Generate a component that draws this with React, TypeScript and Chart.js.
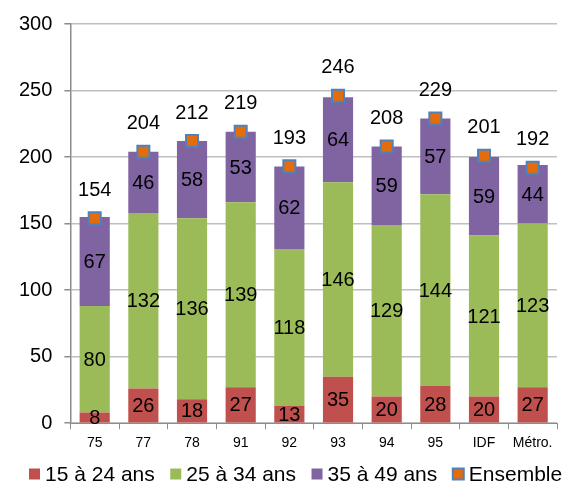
import React, { useEffect, useRef } from "react";
import { Chart, registerables } from "chart.js";

Chart.register(...registerables);

const categories = ["75", "77", "78", "91", "92", "93", "94", "95", "IDF", "Métro."];
const age15to24 = [8, 26, 18, 27, 13, 35, 20, 28, 20, 27];
const age25to34 = [80, 132, 136, 139, 118, 146, 129, 144, 121, 123];
const age35to49 = [67, 46, 58, 53, 62, 64, 59, 57, 59, 44];
const ensemble = [154, 204, 212, 219, 193, 246, 208, 229, 201, 192];
const yTicks = [0, 50, 100, 150, 200, 250, 300];

const FONT = "'Liberation Sans', Arial, sans-serif";
const RED = "#C0504D";
const GREEN = "#9BBB59";
const PURPLE = "#8064A2";
const ORANGE = "#E46C0A";
const BLUE = "#4F81BD";

const legendItems = [
  { text: "15 à 24 ans", fill: RED, stroke: null as string | null },
  { text: "25 à 34 ans", fill: GREEN, stroke: null as string | null },
  { text: "35 à 49 ans", fill: PURPLE, stroke: null as string | null },
  { text: "Ensemble", fill: ORANGE, stroke: BLUE as string | null },
];

// Writes each segment's value in its middle and the total above each marker
const valueLabels = {
  id: "valueLabels",
  afterDatasetsDraw(chart: any) {
    const ctx = chart.ctx;
    ctx.save();
    ctx.font = `20px ${FONT}`;
    ctx.fillStyle = "#000000";
    ctx.textAlign = "center";
    ctx.textBaseline = "middle";
    chart.data.datasets.forEach((ds: any, i: number) => {
      const meta = chart.getDatasetMeta(i);
      meta.data.forEach((el: any, j: number) => {
        const v = ds.data[j];
        if (ds.type === "line") {
          ctx.fillText(String(v), el.x, el.y - 28);
        } else {
          const props = el.getProps(["x", "y", "base"], true);
          ctx.fillText(String(v), props.x, (props.y + props.base) / 2 + 1);
        }
      });
    });
    ctx.restore();
  },
};

// Legend row below the axis: small square, short gap, label
const bottomLegend = {
  id: "bottomLegend",
  afterDraw(chart: any) {
    const ctx = chart.ctx;
    const box = 11;
    const gap = 5;
    const itemGap = 15.5;
    const cy = chart.height - 11;
    ctx.save();
    ctx.font = `21px ${FONT}`;
    ctx.textBaseline = "middle";
    ctx.textAlign = "left";
    let x = 29;
    legendItems.forEach((it) => {
      ctx.fillStyle = it.fill;
      ctx.fillRect(x, cy - box / 2, box, box);
      if (it.stroke) {
        ctx.strokeStyle = it.stroke;
        ctx.lineWidth = 2;
        ctx.strokeRect(x, cy - box / 2, box, box);
      }
      x += box + gap;
      ctx.fillStyle = "#000000";
      ctx.fillText(it.text, x, cy + 1);
      x += ctx.measureText(it.text).width + itemGap;
    });
    ctx.restore();
  },
};

export default function App() {
  const canvasRef = useRef<HTMLCanvasElement>(null);

  useEffect(() => {
    if (!canvasRef.current) return;
    const chart = new Chart(canvasRef.current, {
      type: "bar",
      data: {
        labels: categories,
        datasets: [
          {
            type: "line",
            label: "Ensemble",
            data: ensemble,
            showLine: false,
            pointStyle: "rect",
            pointRadius: 8.5,
            pointBackgroundColor: ORANGE,
            pointBorderColor: BLUE,
            pointBorderWidth: 2,
            backgroundColor: ORANGE,
            borderColor: BLUE,
            stack: "ensemble",
            order: 0,
          } as any,
          {
            label: "15 à 24 ans",
            data: age15to24,
            backgroundColor: RED,
            stack: "ages",
            order: 1,
          },
          {
            label: "25 à 34 ans",
            data: age25to34,
            backgroundColor: GREEN,
            stack: "ages",
            order: 1,
          },
          {
            label: "35 à 49 ans",
            data: age35to49,
            backgroundColor: PURPLE,
            stack: "ages",
            order: 1,
          },
        ],
      },
      options: {
        animation: false,
        responsive: false,
        maintainAspectRatio: false,
        layout: { autoPadding: false, padding: { left: 7, right: 7, top: 12, bottom: 27 } },
        datasets: {
          bar: { barPercentage: 0.62, categoryPercentage: 1 },
        },
        scales: {
          x: {
            stacked: true,
            afterFit: (axis: any) => {
              axis.paddingLeft = 0;
              axis.paddingRight = 0;
            },
            grid: {
              display: true,
              drawOnChartArea: false,
              drawTicks: true,
              tickLength: 6,
              color: "#8C8C8C",
              offset: true,
            },
            border: { display: true, color: "#8C8C8C", width: 1 },
            ticks: {
              color: "#000000",
              font: { family: FONT, size: 14 },
              padding: 6,
              autoSkip: false,
              maxRotation: 0,
            },
          },
          y: {
            stacked: true,
            min: 0,
            max: 300,
            afterBuildTicks: (axis: any) => {
              axis.ticks = yTicks.map((v) => ({ value: v }));
            },
            grid: {
              color: "#BFBFBF",
              lineWidth: 1.5,
              drawTicks: true,
              tickLength: 6,
              tickColor: "#8C8C8C",
            },
            border: { display: true, color: "#8C8C8C", width: 1.5 },
            ticks: {
              color: "#000000",
              font: { family: FONT, size: 20 },
              padding: 12,
            },
          },
        },
        plugins: {
          tooltip: { enabled: false },
          legend: { display: false },
        },
      },
      plugins: [valueLabels, bottomLegend],
    });
    return () => chart.destroy();
  }, []);

  return (
    <div style={{ position: "fixed", left: 0, top: 0, width: 564, height: 485, background: "#ffffff" }}>
      <canvas ref={canvasRef} width={564} height={485} style={{ display: "block" }} />
    </div>
  );
}
